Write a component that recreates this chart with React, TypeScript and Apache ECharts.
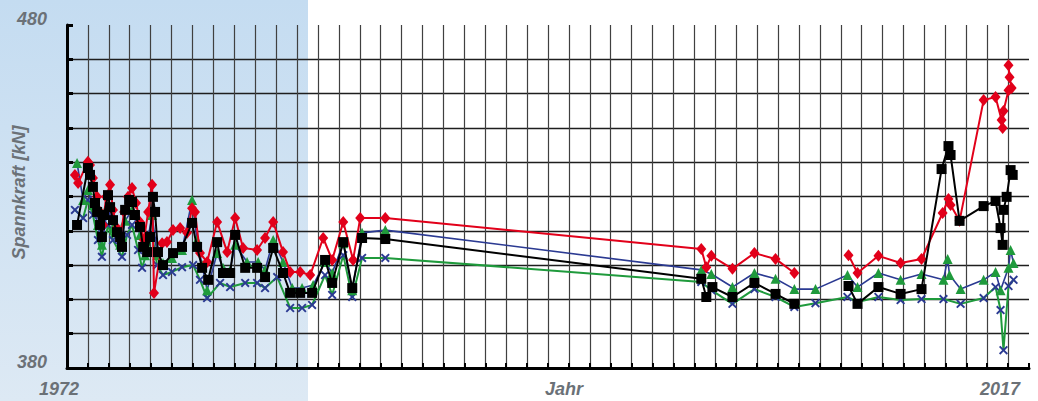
import React, { useEffect, useRef } from "react";
import * as echarts from "echarts";

// [year, kN]
const redDiamond: [number, number | null][] = [
  [1972.38, 436.3], [1972.53, 433.9], [1973.0, 440.1], [1973.1, 439.2], [1973.24, 435.4],
  [1973.44, 429.9], [1973.58, 425.5], [1973.72, 421.7], [1973.87, 429.9], [1974.06, 433.4],
  [1974.2, 426.1], [1974.39, 420.8], [1974.54, 417.3], [1974.73, 425.5], [1974.92, 429.9],
  [1975.11, 432.5], [1975.3, 428.1], [1975.49, 422.6], [1975.68, 417.3], [1975.88, 425.5],
  [1976.07, 433.4], [1976.16, 401.9], [1976.55, 416.4], [1976.78, 416.7], [1977.07, 420.2],
  [1977.41, 420.8], [1977.74, 419.4], [1977.98, 426.6], [1978.12, 425.5], [1978.36, 413.5],
  [1978.7, 410.9], [1979.18, 422.6], [1979.66, 413.8], [1980.04, 423.7], [1980.42, 415.0],
  [1981.09, 414.4], [1981.47, 417.9], [1981.86, 422.6], [1982.33, 413.8], [1982.67, 408.0],
  [1983.15, 408.0], [1983.63, 407.1], [1984.25, 417.9], [1984.68, 411.5], [1985.21, 422.6],
  [1985.68, 411.5], [1986.02, 423.7], [1987.22, 423.7], [2002.33, 414.7], [2002.57, 409.4],
  [2002.81, 412.7], [2003.82, 408.9], [2004.87, 413.5], [2005.88, 411.8], [2006.78, 407.7],
  [2008.0, null],
  [2009.37, 412.9], [2009.8, 407.7], [2010.8, 412.7], [2011.86, 410.6], [2012.86, 411.8],
  [2013.87, 425.2], [2014.15, 429.3], [2014.25, 427.5], [2014.68, 422.9], [2015.83, 458.1],
  [2016.4, 459.0], [2016.69, 452.3], [2016.74, 450.0], [2016.78, 454.9], [2017.02, 461.0],
  [2017.17, 461.6], [2017.07, 464.8], [2017.02, 468.3],
];

const blackSquare: [number, number | null][] = [
  [1972.48, 421.7], [1973.0, 438.3], [1973.1, 436.3], [1973.24, 432.8], [1973.34, 428.1],
  [1973.44, 425.5], [1973.58, 421.7], [1973.67, 418.2], [1973.77, 424.6], [1973.96, 430.4],
  [1974.06, 426.9], [1974.2, 423.1], [1974.39, 419.6], [1974.54, 418.2], [1974.63, 415.3],
  [1974.78, 426.1], [1974.97, 429.0], [1975.11, 428.4], [1975.25, 424.6], [1975.49, 421.1],
  [1975.64, 415.3], [1975.83, 413.8], [1975.97, 418.2], [1976.11, 429.9], [1976.21, 425.5],
  [1976.35, 413.8], [1976.59, 410.0], [1977.07, 413.5], [1977.5, 415.3], [1977.98, 422.3],
  [1978.22, 415.3], [1978.46, 409.2], [1978.75, 405.7], [1979.18, 416.7], [1979.46, 407.7],
  [1979.8, 407.7], [1980.04, 418.8], [1980.52, 409.2], [1981.09, 409.2], [1981.47, 406.5],
  [1981.86, 415.0], [1982.33, 407.7], [1982.67, 401.9], [1983.15, 401.9], [1983.72, 401.9],
  [1984.34, 411.5], [1984.68, 404.8], [1985.21, 416.7], [1985.64, 403.3], [1986.11, 417.9],
  [1987.22, 417.6], [2002.33, 406.0], [2002.57, 400.7], [2002.86, 403.6], [2003.82, 400.7],
  [2004.87, 404.8], [2005.88, 401.6], [2006.78, 398.7],
  [2008.0, null],
  [2009.37, 403.9], [2009.8, 398.7], [2010.8, 403.6], [2011.86, 401.6], [2012.86, 403.0],
  [2013.82, 438.0], [2014.15, 444.7], [2014.25, 442.1], [2014.68, 422.9], [2015.83, 427.2],
  [2016.4, 428.7], [2016.64, 420.8], [2016.74, 415.9], [2016.78, 426.1], [2016.93, 429.9],
  [2017.12, 437.7], [2017.22, 436.3],
];

const greenTriangle: [number, number][] = [
  [1972.48, 439.8], [1972.77, 429.0], [1973.0, 431.9], [1973.24, 427.5], [1973.48, 421.7],
  [1973.67, 415.9], [1973.96, 427.5], [1974.2, 420.8], [1974.54, 415.9], [1974.78, 422.9],
  [1975.11, 426.1], [1975.49, 418.8], [1975.73, 412.9], [1976.07, 424.6], [1976.31, 412.9],
  [1976.59, 410.6], [1977.02, 412.1], [1977.5, 414.4], [1977.98, 429.0], [1978.22, 417.3],
  [1978.46, 410.0], [1978.7, 402.7], [1979.18, 413.5], [1979.46, 409.2], [1979.8, 408.6],
  [1980.04, 415.9], [1980.61, 410.9], [1981.14, 410.9], [1981.47, 408.6], [1981.86, 417.3],
  [1982.33, 410.9], [1982.77, 403.3], [1983.24, 403.3], [1983.77, 404.2], [1984.34, 410.9],
  [1984.68, 407.7], [1985.21, 416.4], [1985.64, 402.7], [1986.11, 419.4], [1987.22, 420.2],
  [2002.33, 408.6], [2002.81, 407.4], [2003.82, 403.6], [2004.87, 407.7], [2005.88, 406.0],
  [2006.78, 403.0], [2007.79, 403.0], [2009.32, 407.1], [2009.8, 403.6], [2010.8, 407.7],
  [2011.86, 405.7], [2012.86, 407.4], [2013.91, 405.7], [2014.11, 411.8], [2014.2, 407.1],
  [2014.73, 403.0], [2015.83, 405.7], [2016.4, 408.0], [2016.64, 402.7], [2017.02, 409.2],
  [2017.12, 414.4], [2017.26, 410.6],
];

const blueCross: [number, number][] = [
  [1972.38, 426.1], [1972.77, 423.7], [1973.0, 429.0], [1973.24, 424.6], [1973.48, 417.3],
  [1973.67, 412.4], [1973.96, 421.7], [1974.2, 417.3], [1974.63, 412.4], [1974.87, 418.8],
  [1975.11, 421.7], [1975.4, 414.4], [1975.59, 409.2], [1976.07, 418.8], [1976.31, 410.0],
  [1976.59, 407.1], [1977.02, 408.0], [1977.5, 409.4], [1978.03, 410.0], [1978.36, 405.7],
  [1978.7, 400.4], [1979.32, 404.8], [1979.8, 403.6], [1980.52, 404.8], [1981.09, 404.8],
  [1981.47, 403.3], [1982.05, 406.5], [1982.67, 397.5], [1983.24, 397.5], [1983.72, 398.4],
  [1984.34, 407.1], [1984.68, 401.3], [1985.21, 412.9], [1985.64, 400.7], [1986.11, 412.1],
  [1987.22, 412.1], [2002.33, 405.1], [2002.81, 402.7], [2003.82, 398.7], [2004.87, 403.0],
  [2005.88, 400.7], [2006.78, 397.8], [2007.79, 398.9], [2009.32, 400.7], [2009.8, 399.2],
  [2010.8, 400.7], [2011.86, 399.8], [2012.86, 400.1], [2013.91, 400.1], [2014.73, 398.7],
  [2015.83, 400.4], [2016.4, 403.6], [2016.64, 396.9], [2016.78, 385.2], [2017.02, 403.9],
  [2017.26, 405.7],
];

const yTickLabels = [380, 480];
const xTickLabels = [1972, 2017];

const CROSS = "path://M0,1.5L1.5,0L5,3.5L8.5,0L10,1.5L6.5,5L10,8.5L8.5,10L5,6.5L1.5,10L0,8.5L3.5,5Z";

const labelStyle = {
  color: "#6b7177",
  fontFamily: "Liberation Sans, Arial, sans-serif",
  fontSize: 18,
  fontWeight: "bold" as const,
  fontStyle: "italic" as const,
};

export default function App() {
  const ref = useRef<HTMLDivElement>(null);
  useEffect(() => {
    if (!ref.current) return;
    const chart = echarts.init(ref.current, undefined, { renderer: "svg" });
    chart.setOption({
      animation: false,
      backgroundColor: "#ffffff",
      graphic: [
        {
          type: "rect",
          z: -10,
          silent: true,
          shape: { x: 0, y: 0, width: 308, height: 401 },
          style: {
            fill: new echarts.graphic.LinearGradient(0, 0, 0, 1, [
              { offset: 0, color: "#c4dcf1" },
              { offset: 1, color: "#dde9f4" },
            ]),
          },
        },
      ],
      grid: { left: 67, right: 9, top: 25, bottom: 33, containLabel: false, outerBoundsMode: "none" },
      xAxis: {
        type: "value",
        min: 1972,
        max: 2018,
        interval: 1,
        name: "Jahr",
        nameLocation: "middle",
        nameGap: 12,
        nameMoveOverlap: false,
        nameTextStyle: { ...labelStyle, verticalAlign: "top", padding: [0, 0, 0, 32] },
        axisLine: { show: true, onZero: false, lineStyle: { color: "#000", width: 3 } },
        axisTick: { show: true, inside: true, length: 5, lineStyle: { color: "#000", width: 2 } },
        axisLabel: {
          ...labelStyle,
          margin: 12,
          padding: [0, 16, 0, 0],
          formatter: (v: number) => (xTickLabels.includes(Math.round(v)) && Math.abs(v - Math.round(v)) < 1e-6 ? String(Math.round(v)) : ""),
        },
        splitLine: { show: true, showMaxLine: false, lineStyle: { color: "#404040", width: 1.2 } },
      },
      yAxis: {
        type: "value",
        min: 380,
        max: 480,
        interval: 10,
        name: "Spannkraft [kN]",
        nameLocation: "middle",
        nameGap: 39,
        nameRotate: 90,
        nameMoveOverlap: false,
        nameTextStyle: { ...labelStyle, verticalAlign: "bottom", padding: [0, 0, 0, 8] },
        axisLine: { show: true, lineStyle: { color: "#000", width: 3 } },
        axisTick: { show: true, inside: true, length: 6, lineStyle: { color: "#000", width: 3 } },
        axisLabel: {
          ...labelStyle,
          margin: 20,
          verticalAlign: "bottom",
          lineHeight: 12,
          formatter: (v: number) => (yTickLabels.includes(v) ? String(v) : ""),
        },
        splitLine: { show: true, showMaxLine: false, lineStyle: { color: "#1e1e1e", width: 1.3 } },
      },
      series: [
        {
          type: "line",
          data: blueCross,
          symbol: CROSS,
          symbolSize: 9,
          lineStyle: { color: "#1f9a3c", width: 2 },
          itemStyle: { color: "#2b3a92" },
          z: 2,
        },
        {
          type: "line",
          data: greenTriangle,
          symbol: "triangle",
          symbolSize: 10,
          lineStyle: { color: "#2b3a92", width: 1.6 },
          itemStyle: { color: "#1f9a3c" },
          z: 3,
        },
        {
          type: "line",
          data: redDiamond,
          symbol: "diamond",
          symbolSize: [10, 12],
          connectNulls: false,
          lineStyle: { color: "#e2001a", width: 2 },
          itemStyle: { color: "#e2001a" },
          z: 4,
        },
        {
          type: "line",
          data: blackSquare,
          symbol: "rect",
          symbolSize: 10,
          connectNulls: false,
          lineStyle: { color: "#000000", width: 2 },
          itemStyle: { color: "#000000" },
          z: 5,
        },
      ],
    });
    return () => chart.dispose();
  }, []);
  return (
    <div
      ref={ref}
      style={{ position: "fixed", left: 0, top: 0, width: 1038, height: 401 }}
    />
  );
}
